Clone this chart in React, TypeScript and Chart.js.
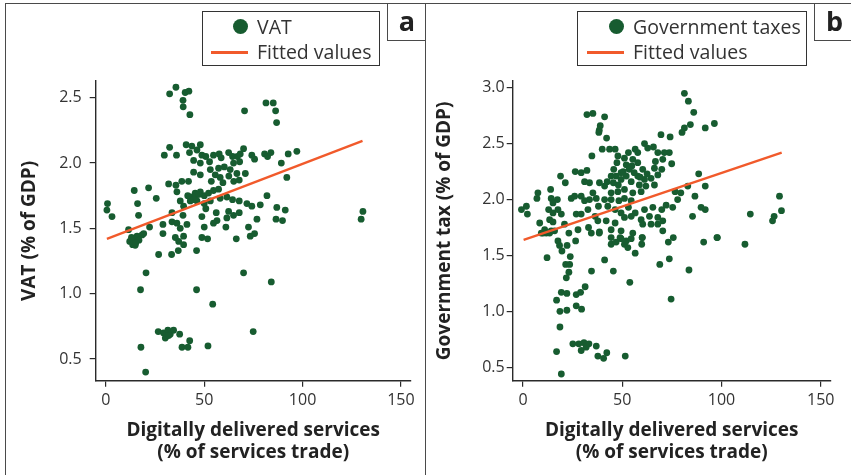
import React, { useEffect, useRef } from "react";
import { Chart, registerables } from "chart.js";

Chart.register(...registerables);

// ---------- Data ----------
const vatX = [
  32.4, 35.6, 39.2, 40.3, 42.2, 39.3, 42.7, 70.5, 81.4, 85.1, 86.3, 86.8,
  32.4, 29.7, 35.9, 40.8, 43.7, 48.0, 42.5, 46.3, 48.8, 44.6, 48.0, 50.8, 52.7, 54.7, 57.6, 58.6,
  62.4, 64.4, 66.9, 68.3, 70.0, 64.9, 68.0, 74.2, 75.6, 80.7, 82.2, 83.9, 92.7, 97.1, 89.2, 92.0,
  81.9, 53.1, 57.3, 60.2, 63.2, 66.6, 70.9, 44.6, 48.0, 55.6, 58.1, 62.5, 53.6, 59.5, 65.0, 67.8,
  31.9, 35.6, 38.6, 42.0, 36.1, 14.4, 21.7, 25.6, 0.8, 0.5, 3.1, 16.1, 16.6,
  43.2, 45.4, 48.0, 50.0, 52.2, 54.7, 57.3, 42.9, 46.3, 50.0, 53.1, 58.1, 61.5, 64.4, 67.8, 71.7,
  78.5, 86.9, 91.2, 37.8, 39.5, 33.6, 39.2, 50.8, 56.1, 62.4, 64.9, 67.8, 74.2, 48.8, 56.5, 61.5,
  76.8, 86.5, 89.8, 130.7, 129.8, 29.0, 33.6, 36.1, 41.2, 37.8, 50.0, 54.7, 61.0, 72.5, 11.5, 22.2,
  12.1, 14.1, 15.8, 18.4, 13.6, 14.9, 19.2, 29.0, 35.3, 37.0, 39.5, 39.5, 48.8, 51.7, 66.3, 73.4,
  75.6, 26.8, 33.4, 36.8, 46.1, 20.4, 17.6, 46.1, 70.0, 84.1, 54.3,
  26.6, 29.3, 31.5, 30.2, 32.7, 34.4, 31.9, 37.5, 17.8, 38.7, 41.7, 42.6, 51.9, 74.9, 20.2,
  44.0, 45.5, 47.2, 41.6, 13.0, 16.8, 15.2,
];
const vatY = [
  2.53, 2.58, 2.48, 2.54, 2.55, 2.43, 2.37, 2.40, 2.46, 2.46, 2.40, 2.31,
  2.12, 2.06, 2.06, 2.14, 2.13, 2.14, 2.08, 2.10, 2.06, 2.02, 2.00, 2.05, 2.01, 2.06, 2.07, 2.04,
  2.08, 2.05, 2.05, 2.07, 2.11, 2.00, 2.01, 2.06, 2.03, 2.07, 2.05, 2.08, 2.07, 2.09, 2.00, 1.89,
  1.75, 1.95, 1.96, 1.97, 1.95, 1.92, 1.92, 1.93, 1.91, 1.91, 1.89, 1.90, 1.86, 1.85, 1.86, 1.87,
  1.84, 1.83, 1.86, 1.86, 1.78, 1.79, 1.81, 1.73, 1.69, 1.64, 1.59, 1.69, 1.60,
  1.74, 1.77, 1.78, 1.75, 1.77, 1.79, 1.80, 1.71, 1.71, 1.69, 1.71, 1.73, 1.74, 1.72, 1.71, 1.69,
  1.68, 1.66, 1.64, 1.71, 1.67, 1.62, 1.60, 1.65, 1.62, 1.63, 1.60, 1.62, 1.67, 1.59, 1.56, 1.58,
  1.57, 1.57, 1.56, 1.63, 1.57, 1.53, 1.55, 1.54, 1.53, 1.50, 1.51, 1.54, 1.51, 1.51, 1.49, 1.51,
  1.40, 1.41, 1.44, 1.45, 1.375, 1.37, 1.46, 1.46, 1.43, 1.40, 1.44, 1.375, 1.43, 1.42, 1.42, 1.44,
  1.46, 1.30, 1.30, 1.33, 1.33, 1.16, 1.03, 1.03, 1.16, 1.09, 0.92,
  0.71, 0.70, 0.72, 0.66, 0.69, 0.72, 0.68, 0.69, 0.59, 0.59, 0.59, 0.64, 0.60, 0.71, 0.40,
  1.72, 1.74, 1.76, 1.75, 1.43, 1.41, 1.39,
];

const govX = [
  81.3, 83.3, 86.0, 84.3, 81.3, 80.1, 96.4, 91.8, 32.2, 35.2, 41.1, 38.9, 38.4, 38.2, 42.1, 39.9,
  43.6, 46.4, 34.7, 69.5, 74.1, 61.2, 62.8, 65.7, 67.9, 73.7, 53.1, 56.5, 57.8, 47.8, 51.1, 55.3,
  54.8, 52.0, 47.3, 49.4, 45.7, 44.4, 42.4, 41.1, 38.5, 33.5, 31.0, 26.3, 29.3, 32.2, 18.9, 21.3,
  57.8, 60.3, 62.5, 66.2, 69.9, 66.7, 70.4, 74.9, 71.2, 46.9, 49.4, 52.0, 54.5, 57.8, 61.2, 64.5,
  67.9, 58.6, 61.9, 66.2, 44.4, 47.8, 51.1, 55.3, 59.5, 41.1, 44.4, 48.3, 51.1, 54.5, 35.2, 33.5,
  36.9, 31.0, 29.3, 26.0, 24.3, 38.0, 42.7, 46.4, 49.4, 53.1, 56.5, 61.2, 65.4, 69.9, 75.4, 77.9,
  79.5, 83.0, 76.6, 88.5, 91.8, 86.6, 89.7, 91.8, 85.4, 129.2, 130.2, 126.5, 125.7, 114.5, 97.7, 75.7,
  -0.8, 1.7, 2.2, 7.0, 7.5, 13.9, 14.2, 15.1, 17.3, 12.9, 15.1, 17.6, 19.3, 13.4, 8.4, 10.9,
  15.1, 20.9, 9.2, 11.7, 14.2, 23.1, 27.7, 26.8, 29.3, 32.7, 36.3, 33.0, 34.4, 38.4, 37.7, 41.9,
  46.4, 51.1, 54.5, 59.5, 63.7, 67.9, 70.4, 64.5, 67.9, 60.3, 55.3, 49.4, 44.4, 70.4, 48.9, 44.4,
  60.0, 10.1, 13.4, 15.9, 38.5, 12.1, 17.6, 18.4, 19.6, 22.2, 23.8, 21.5, 23.5, 23.1, 21.8, 26.5,
  19.3, 22.1, 26.8, 29.0, 31.3, 16.9, 18.6, 22.1, 26.8, 29.5, 18.6, 16.9, 25.1, 28.1, 30.7, 33.2,
  29.3, 31.8, 36.9, 37.7, 40.6, 42.2, 51.5, 19.3, 34.5, 41.1, 45.5, 53.8, 44.4, 46.9, 49.4, 51.1,
  52.8, 52.0, 54.5, 56.5, 59.8, 60.1, 68.9, 73.7, 73.2, 83.6, 74.6, 91.0, 97.9, 111.8,
  50.5, 53.5, 56.0, 59.0, 48.0, 45.5, 72.1,
];
const govY = [
  2.95, 2.88, 2.78, 2.67, 2.64, 2.60, 2.68, 2.64, 2.76, 2.77, 2.74, 2.66, 2.62, 2.60, 2.55, 2.45,
  2.45, 2.45, 2.39, 2.58, 2.56, 2.50, 2.46, 2.47, 2.42, 2.42, 2.42, 2.45, 2.42, 2.39, 2.37, 2.36,
  2.30, 2.31, 2.33, 2.24, 2.27, 2.21, 2.16, 2.12, 2.15, 2.15, 2.16, 2.25, 2.24, 2.26, 2.21, 2.15,
  2.33, 2.27, 2.23, 2.28, 2.27, 2.34, 2.36, 2.32, 2.42, 2.21, 2.18, 2.21, 2.16, 2.21, 2.18, 2.19,
  2.22, 2.13, 2.12, 2.13, 2.06, 2.07, 2.09, 2.06, 2.07, 2.00, 2.00, 1.99, 2.01, 1.99, 2.06, 2.00,
  2.01, 1.99, 2.03, 2.03, 2.01, 1.94, 1.94, 1.91, 1.88, 1.93, 1.88, 1.91, 1.93, 1.91, 1.93, 2.00,
  2.06, 2.12, 2.07, 2.23, 2.12, 2.03, 1.93, 1.91, 1.85, 2.03, 1.90, 1.85, 1.81, 1.87, 1.66, 1.66,
  1.91, 1.94, 1.87, 2.01, 2.06, 2.09, 2.01, 1.97, 2.00, 1.91, 1.88, 1.91, 1.87, 1.82, 1.79, 1.73,
  1.80, 1.78, 1.70, 1.70, 1.72, 1.70, 1.73, 1.87, 1.87, 1.91, 1.85, 1.75, 1.70, 1.70, 1.81, 1.81,
  1.79, 1.84, 1.85, 1.82, 1.85, 1.84, 1.81, 1.78, 1.78, 1.78, 1.70, 1.72, 1.73, 1.72, 1.66, 1.66,
  1.66, 1.70, 1.70, 1.72, 1.71, 1.48, 1.63, 1.59, 1.54, 1.59, 1.49, 1.42, 1.42, 1.35, 1.30, 1.63,
  1.17, 1.16, 1.15, 1.17, 1.22, 1.10, 1.00, 1.01, 1.05, 1.02, 0.86, 0.64, 0.71, 0.71, 0.72, 0.71,
  0.65, 0.68, 0.69, 0.60, 0.58, 0.63, 0.60, 0.44, 1.36, 1.46, 1.36, 1.26, 1.60, 1.62, 1.65, 1.60,
  1.57, 1.63, 1.65, 1.52, 1.60, 1.66, 1.42, 1.47, 1.62, 1.37, 1.11, 1.62, 1.66, 1.60,
  2.25, 2.27, 2.24, 2.20, 2.13, 2.15, 1.95,
];

const fitAX = [0.5, 130.5];
const fitAY = [1.42, 2.17];
const fitBX = [0.3, 130.3];
const fitBY = [1.64, 2.42];

const xTicks = [0, 50, 100, 150];
const yTicksA = [0.5, 1.0, 1.5, 2.0, 2.5];
const yTicksB = [0.5, 1.0, 1.5, 2.0, 2.5, 3.0];

const xTitle = ["Digitally delivered services", "(% of services trade)"];

// ---------- Styles ----------
const GREEN = "#175c30";
const ORANGE = "#f15a2b";
const AXIS = "#2a2a2a";
const FONT = "'Open Sans', sans-serif";
const FRAME = "#4a4a4a";

type PanelProps = {
  left: number;
  width: number;
  xs: number[];
  ys: number[];
  fx: number[];
  fy: number[];
  yTicks: number[];
  yMin: number;
  yMax: number;
  yTitle: string;
  label: string;
  yScaleWidth: number;
  rightPad: number;
  yTickPad: number;
  yTitlePad: number;
};

function Panel(p: PanelProps) {
  const ref = useRef<HTMLCanvasElement | null>(null);
  useEffect(() => {
    if (!ref.current) return;
    const chart = new Chart(ref.current, {
      type: "scatter",
      data: {
        datasets: [
          {
            label: "Fitted values",
            data: p.fx.map((x, i) => ({ x, y: p.fy[i] })),
            showLine: true,
            borderColor: ORANGE,
            backgroundColor: ORANGE,
            borderWidth: 2.4,
            pointRadius: 0,
            pointHoverRadius: 0,
            fill: false,
            order: 0,
          },
          {
            label: p.label,
            data: p.xs.map((x, i) => ({ x, y: p.ys[i] })),
            backgroundColor: GREEN,
            borderWidth: 0,
            pointRadius: 3.4,
            pointHoverRadius: 3.4,
            order: 1,
          },
        ],
      },
      options: {
        responsive: false,
        animation: false,
        events: [],
        layout: { padding: { top: 81, right: p.rightPad, bottom: 0, left: 0 } },
        plugins: { legend: { display: false }, tooltip: { enabled: false } },
        scales: {
          x: {
            type: "linear",
            min: -5.2,
            max: 155,
            afterBuildTicks: (s: any) => {
              s.ticks = xTicks.map((v) => ({ value: v }));
            },
            afterFit: (s: any) => {
              s.height = 94.3;
            },
            grid: {
              display: true,
              drawOnChartArea: false,
              drawTicks: true,
              tickLength: 6,
              color: AXIS,
              lineWidth: 1.2,
            },
            border: { display: true, color: AXIS, width: 1.4 },
            ticks: {
              color: "#333",
              font: { family: FONT, size: 16 },
              padding: 4,
              maxRotation: 0,
              callback: (v: any) => String(v),
            },
            title: {
              display: true,
              text: xTitle,
              color: "#222",
              font: { family: FONT, size: 19, weight: "bold", lineHeight: 1.14 },
              padding: { top: 0, bottom: 12 },
            },
          },
          y: {
            type: "linear",
            min: p.yMin,
            max: p.yMax,
            afterBuildTicks: (s: any) => {
              s.ticks = p.yTicks.map((v) => ({ value: v }));
            },
            afterFit: (s: any) => {
              s.width = p.yScaleWidth;
            },
            grid: {
              display: true,
              drawOnChartArea: false,
              drawTicks: true,
              tickLength: 6,
              color: AXIS,
              lineWidth: 1.2,
            },
            border: { display: true, color: AXIS, width: 1.4 },
            ticks: {
              color: "#333",
              font: { family: FONT, size: 16 },
              padding: p.yTickPad,
              callback: (v: any) => Number(v).toFixed(1),
            },
            title: {
              display: true,
              text: p.yTitle,
              color: "#222",
              font: { family: FONT, size: 19, weight: "bold", lineHeight: 1.28 },
              padding: { top: p.yTitlePad, bottom: 0 },
            },
          },
        },
      },
    });
    return () => chart.destroy();
  }, []);
  return (
    <canvas
      ref={ref}
      width={p.width}
      height={475}
      style={{ position: "absolute", left: p.left, top: 0, width: p.width, height: 475 }}
    />
  );
}

type LegendProps = {
  left: number;
  width: number;
  markerRight: number;
  seriesLabel: string;
};

function Legend({ left, width, markerRight, seriesLabel }: LegendProps) {
  const textLeft = markerRight + 8.7;
  const txt: React.CSSProperties = {
    position: "absolute",
    left: textLeft - left,
    fontFamily: FONT,
    fontSize: 19.5,
    color: "#333",
    lineHeight: "22px",
    whiteSpace: "nowrap",
  };
  return (
    <div
      style={{
        position: "absolute",
        left,
        top: 11,
        width,
        height: 55,
        boxSizing: "border-box",
        border: "1.3px solid #333",
        background: "#fff",
      }}
    >
      <div
        style={{
          position: "absolute",
          left: markerRight - 15 - left,
          top: 26.7 - 11 - 7.5 - 1,
          width: 15,
          height: 15,
          borderRadius: "50%",
          background: GREEN,
        }}
      />
      <div style={{ ...txt, top: 26.7 - 11 - 11 - 1 }}>{seriesLabel}</div>
      <div
        style={{
          position: "absolute",
          left: markerRight - 37.5 - left,
          top: 52.3 - 11 - 1.5 - 1,
          width: 37.5,
          height: 3,
          background: ORANGE,
        }}
      />
      <div style={{ ...txt, top: 52.3 - 11 - 11 - 1 }}>Fitted values</div>
    </div>
  );
}

function PanelLabel({ left, width, text }: { left: number; width: number; text: string }) {
  return (
    <div
      style={{
        position: "absolute",
        left,
        top: 3,
        width,
        height: 38,
        boxSizing: "border-box",
        borderLeft: `1.5px solid ${FRAME}`,
        borderBottom: `1.5px solid ${FRAME}`,
        display: "flex",
        alignItems: "center",
        justifyContent: "center",
        fontFamily: FONT,
        fontWeight: 700,
        fontSize: 27,
        color: "#222",
        lineHeight: 1,
        paddingBottom: 3,
      }}
    >
      {text}
    </div>
  );
}

export default function App() {
  return (
    <div
      style={{
        position: "absolute",
        left: 0,
        top: 0,
        width: 851,
        height: 475,
        background: "#fff",
        overflow: "hidden",
      }}
    >
      <Panel
        left={5}
        width={420}
        xs={vatX}
        ys={vatY}
        fx={fitAX}
        fy={fitAY}
        yTicks={yTicksA}
        yMin={0.334}
        yMax={2.628}
        yTitle="VAT (% of GDP)"
        label="VAT"
        yScaleWidth={90.7}
        rightPad={14.3}
        yTickPad={8}
        yTitlePad={12.8}
      />
      <Panel
        left={426}
        width={425}
        xs={govX}
        ys={govY}
        fx={fitBX}
        fy={fitBY}
        yTicks={yTicksB}
        yMin={0.38}
        yMax={3.06}
        yTitle="Government tax (% of GDP)"
        label="Government taxes"
        yScaleWidth={86.7}
        rightPad={20.3}
        yTickPad={2}
        yTitlePad={6.8}
      />
      {/* frame lines */}
      <div style={{ position: "absolute", left: 5, top: 3, width: 846, height: 0, borderTop: `1.5px solid ${FRAME}` }} />
      <div style={{ position: "absolute", left: 5, top: 3, width: 0, height: 472, borderLeft: `1.5px solid ${FRAME}` }} />
      <div style={{ position: "absolute", left: 425, top: 3, width: 0, height: 472, borderLeft: `1.5px solid ${FRAME}` }} />
      <PanelLabel left={387} width={39} text="a" />
      <PanelLabel left={814} width={40} text="b" />
      <Legend left={202} width={178} markerRight={247.3} seriesLabel="VAT" />
      <Legend left={577} width={230} markerRight={623.3} seriesLabel="Government taxes" />
    </div>
  );
}
